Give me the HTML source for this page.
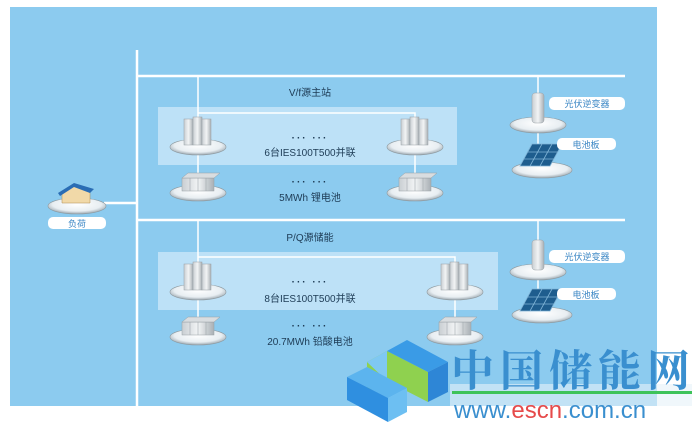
<!DOCTYPE html>
<html><head><meta charset="utf-8"><style>
body{margin:0;width:699px;height:428px;background:#fff;overflow:hidden;font-family:"Liberation Sans","Noto Sans CJK SC",sans-serif}
svg{position:absolute;left:0;top:0}
</style></head><body>
<svg width="699" height="428" viewBox="0 0 699 428">
<defs>
<radialGradient id="pl" cx="50%" cy="40%" r="60%"><stop offset="0" stop-color="#ffffff"/><stop offset="0.7" stop-color="#e8eef2"/><stop offset="1" stop-color="#9aa6ae"/></radialGradient>
<linearGradient id="cab" x1="0" x2="1"><stop offset="0" stop-color="#c9ced2"/><stop offset="0.5" stop-color="#f2f4f5"/><stop offset="1" stop-color="#a9b0b5"/></linearGradient>
<g id="plate"><ellipse cx="0" cy="0" rx="28" ry="8" fill="url(#pl)" stroke="#8d999f" stroke-width="0.6"/></g>
<g id="pcs"><use href="#plate" y="0"/><rect x="-14" y="-28" width="9" height="26" fill="url(#cab)" stroke="#98a0a5" stroke-width="0.5"/><rect x="-5" y="-30" width="9" height="28" fill="url(#cab)" stroke="#98a0a5" stroke-width="0.5"/><rect x="4" y="-28" width="9" height="26" fill="url(#cab)" stroke="#98a0a5" stroke-width="0.5"/></g>
<g id="bat"><use href="#plate" y="0"/><rect x="-16" y="-15" width="32" height="13" fill="url(#cab)" stroke="#98a0a5" stroke-width="0.5"/><path d="M-16 -15 l6 -5 h32 l-6 5z" fill="#d9dde0" stroke="#98a0a5" stroke-width="0.5"/><path d="M-8 -15v13M0 -15v13M8 -15v13" stroke="#a0a7ac" stroke-width="0.6"/></g>
<g id="inv"><use href="#plate"/><rect x="-6" y="-32" width="12" height="30" rx="3" fill="url(#cab)" stroke="#98a0a5" stroke-width="0.5"/></g>
<g id="pv"><ellipse cx="0" cy="0" rx="30" ry="8" fill="url(#pl)" stroke="#8d999f" stroke-width="0.6"/><path d="M-22 -4 l12 -22 h30 l-12 22z" fill="#1e5d8e" stroke="#7fb3d6" stroke-width="0.8"/><path d="M-18 -11h30M-14 -18h30M-12 -4l12 -22M-2 -4l12 -22" stroke="#7fb3d6" stroke-width="0.8"/></g>
</defs>
<rect x="10" y="7" width="647" height="399" fill="#8ccbef"/>
<g stroke="#fff" stroke-width="2.5" fill="none">
<path d="M137 50V406M137 76H625M137 220H625M104 203H137"/>
</g>
<rect x="158" y="107" width="299" height="58" fill="#c6e5f8" opacity="0.85"/>
<rect x="158" y="252" width="340" height="58" fill="#c6e5f8" opacity="0.85"/>
<g stroke="#fff" stroke-width="1.5" fill="none">
<path d="M198 76V190M198 113H415V185M538 76V165"/>
<path d="M198 220V335M198 257H455V335M538 220V305"/>
</g>
<g fill="#1d3b55" font-size="10" text-anchor="middle">
<text x="310" y="96">V/f源主站</text>
<text x="310" y="141" font-weight="bold" letter-spacing="2">··· ···</text>
<text x="310" y="156">6台IES100T500并联</text>
<text x="310" y="185" font-weight="bold" letter-spacing="2">··· ···</text>
<text x="310" y="201">5MWh 锂电池</text>
<text x="310" y="241">P/Q源储能</text>
<text x="310" y="285" font-weight="bold" letter-spacing="2">··· ···</text>
<text x="310" y="302">8台IES100T500并联</text>
<text x="310" y="329" font-weight="bold" letter-spacing="2">··· ···</text>
<text x="310" y="345">20.7MWh 铅酸电池</text>
</g>
<use href="#pcs" x="198" y="147"/><use href="#pcs" x="415" y="147"/>
<use href="#bat" x="198" y="193"/><use href="#bat" x="415" y="193"/>
<use href="#pcs" x="198" y="292"/><use href="#pcs" x="455" y="292"/>
<use href="#bat" x="198" y="337"/><use href="#bat" x="455" y="337"/>
<use href="#inv" x="538" y="125"/><use href="#pv" x="542" y="170"/>
<use href="#inv" x="538" y="272"/><use href="#pv" x="542" y="315"/>
<ellipse cx="77" cy="206" rx="29" ry="8" fill="url(#pl)" stroke="#8d999f" stroke-width="0.6"/>
<path d="M62 203v-12l14 -6 14 6v12z" fill="#f1d9a8" stroke="#b08a50" stroke-width="0.5"/>
<path d="M58 193l16 -10 20 6 -4 4 -16 -6 -14 9z" fill="#2a6db4"/>
<rect x="48" y="217" width="58" height="12" rx="5" fill="#fff"/>
<text x="77" y="227" font-size="9" fill="#3a86c4" text-anchor="middle">负荷</text>
<g font-size="9" fill="#3a86c4" text-anchor="middle">
<rect x="549" y="97" width="76" height="13" rx="5" fill="#fff"/><text x="587" y="107">光伏逆变器</text>
<rect x="557" y="138" width="59" height="12" rx="5" fill="#fff"/><text x="586" y="148">电池板</text>
<rect x="549" y="250" width="76" height="13" rx="5" fill="#fff"/><text x="587" y="260">光伏逆变器</text>
<rect x="557" y="288" width="59" height="12" rx="5" fill="#fff"/><text x="586" y="298">电池板</text>
</g>
<g>
<path d="M367 362l20 -11 41 21v30l-41 -21 -20 11z" fill="#8fd14f"/>
<path d="M387 351l20 -11 41 22 -20 10z" fill="#3a9be6"/>
<path d="M428 372l20 -10v30l-20 10z" fill="#2e86d6"/>
<path d="M367 362l20 -11v30z" fill="#7fc8f2"/>
<path d="M347 377l20 -10 40 21 -19 10z" fill="#5cb4ee"/>
<path d="M347 377l41 21v24l-41 -22z" fill="#2f8fe0"/>
<path d="M388 398l19 -10v24l-19 10z" fill="#6dbff2"/>
</g>
<rect x="450" y="384" width="242" height="22" fill="#e6f2f8" opacity="0.6"/>
<text x="451" y="386" font-family="'Noto Serif CJK SC',serif" font-weight="bold" font-size="43" fill="#3a8fcf" letter-spacing="6">中国储能网</text>
<rect x="452" y="391" width="240" height="3" fill="#3ec35a"/>
<text x="454" y="418" font-size="24" fill="#3a8fcf">www.<tspan fill="#e64a4a">escn</tspan>.com.cn</text>
</svg>
</body></html>
